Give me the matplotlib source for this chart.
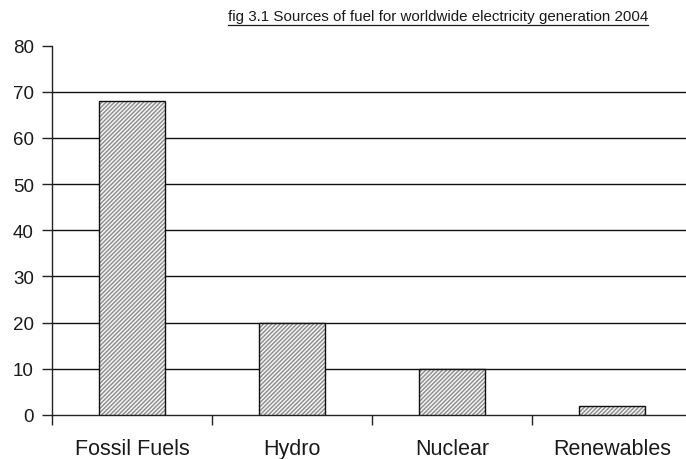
import matplotlib
matplotlib.use("Agg")
import matplotlib.pyplot as plt
from matplotlib.lines import Line2D

categories = ["Fossil Fuels", "Hydro", "Nuclear", "Renewables"]
values = [68, 20, 10, 2]
y_ticks = [0, 10, 20, 30, 40, 50, 60, 70, 80]
title = "fig 3.1 Sources of fuel for worldwide electricity generation 2004"

plt.rcParams["font.family"] = ["Liberation Sans", "DejaVu Sans"]
plt.rcParams["hatch.linewidth"] = 1.0

W, H = 686, 460
fig = plt.figure(figsize=(W / 100, H / 100), dpi=100)
# axes box in pixels: left 52, bottom 416, top 46.5, slots 160 px wide
ax = fig.add_axes([52 / W, (H - 416) / H, 640 / W, (416 - 46.5) / H])

x = list(range(len(categories)))
# hatched fill, then a crisp black outline on top
ax.bar(x, values, width=0.41, color="#f4f4f4", edgecolor="#8c8c8c",
       hatch="////////", linewidth=0, zorder=3)
ax.bar(x, values, width=0.41, fill=False, edgecolor="#111111",
       linewidth=1.0, zorder=4)

ax.set_xlim(-0.5, 3.5)
ax.set_ylim(0, 80)
ax.set_yticks(y_ticks)
ax.set_yticklabels([str(v) for v in y_ticks])
ax.set_xticks([-0.5, 0.5, 1.5, 2.5, 3.5])
ax.set_xticklabels([])
ax.set_xticks(x, minor=True)
ax.set_xticklabels(categories, minor=True)
ax.tick_params(axis="x", which="minor", length=0, pad=16.5, labelsize=15.5,
               colors="#1a1a1a")
ax.tick_params(axis="x", which="major", length=7, width=1.0, color="#222222",
               direction="out")
ax.tick_params(axis="y", length=7, width=1.0, color="#222222", pad=6,
               labelsize=13.5, labelcolor="#1a1a1a", direction="out")

for v in y_ticks[1:-1]:
    ax.axhline(v, color="#111111", linewidth=1.0, zorder=1)

for s in ["top", "right"]:
    ax.spines[s].set_visible(False)
for s in ["left", "bottom"]:
    ax.spines[s].set_color("#222222")
    ax.spines[s].set_linewidth(1.0)

# underlined title
t = fig.text(438 / W, 1 - 17 / H, title, ha="center", va="center",
             fontsize=10.9, color="#1a1a1a")
fig.canvas.draw()
bb = t.get_window_extent()
uy = bb.y0 - 1.5
fig.add_artist(Line2D([bb.x0 / W, bb.x1 / W], [uy / H, uy / H],
                      transform=fig.transFigure, color="#1a1a1a", linewidth=0.9))

fig.savefig("out.png", dpi=100)
